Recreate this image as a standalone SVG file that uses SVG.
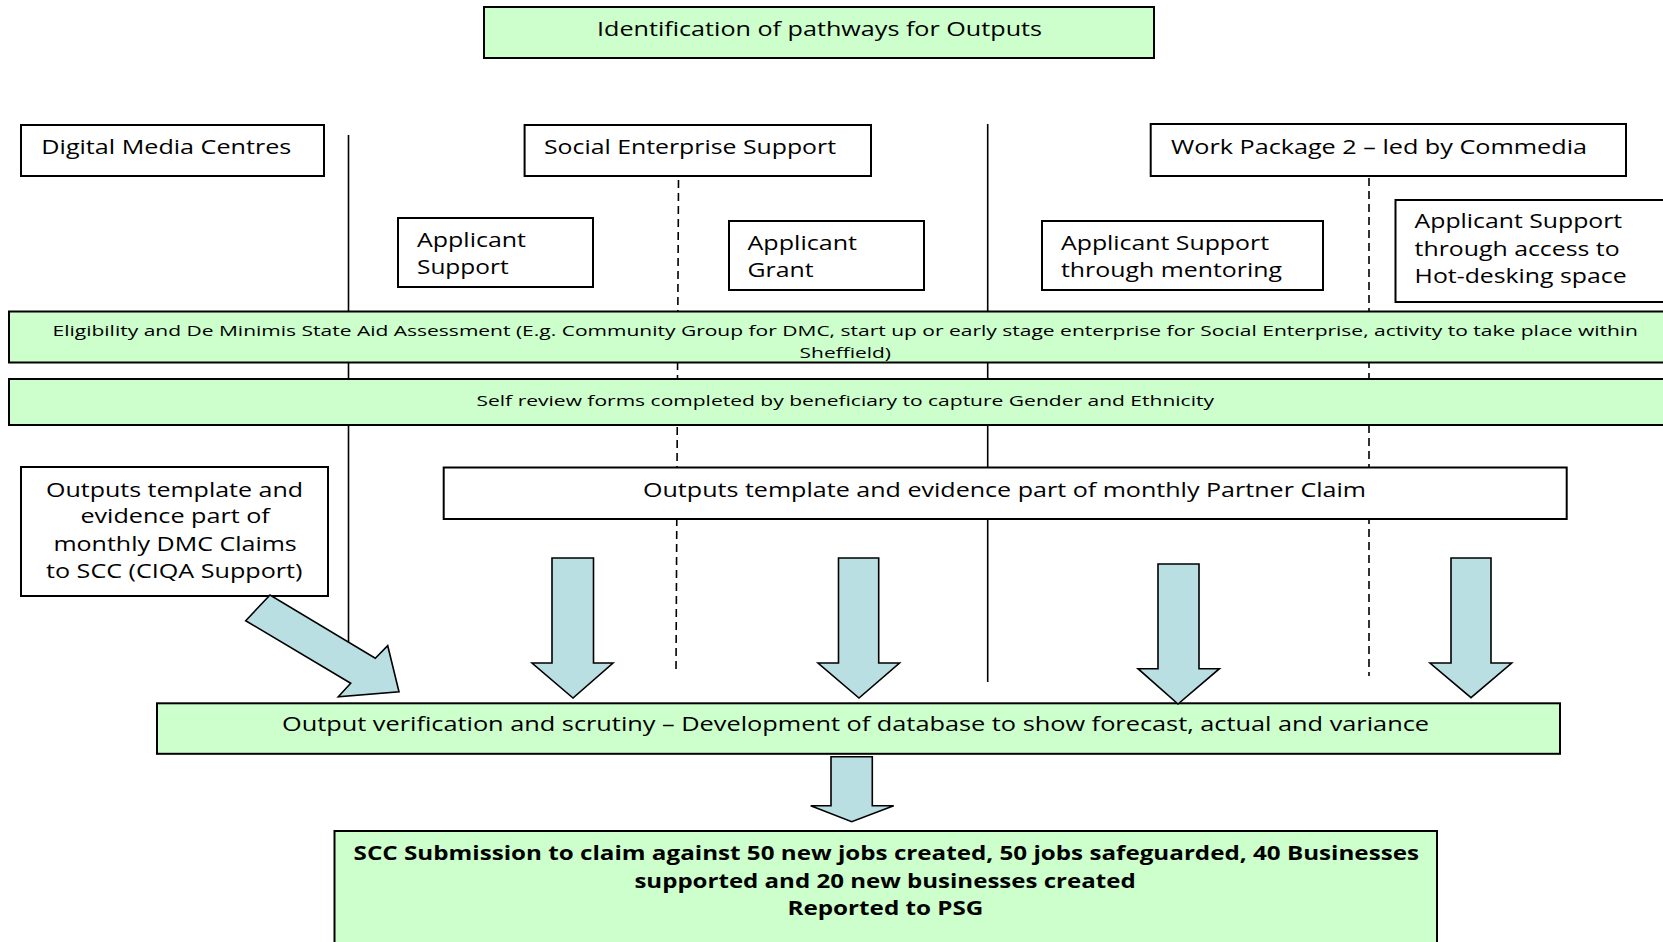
<svg xmlns="http://www.w3.org/2000/svg" width="1663" height="942" viewBox="0 0 1663 942">
<style>
.box{fill:#ffffff;stroke:#000000;stroke-width:2}
.band{fill:#ccffcc;stroke:#000000;stroke-width:2}
.lane{stroke:#000000;stroke-width:1.6;fill:none}
.dash{stroke:#000000;stroke-width:1.6;fill:none;stroke-dasharray:8 5}
.arrow{fill:#b9dfe3;stroke:#000000;stroke-width:1.6;stroke-linejoin:miter}
text{font-family:"Open Sans","Noto Sans","Liberation Sans",sans-serif;fill:#000000}
.t{font-size:20px}
.s{font-size:15px}
.b{font-size:20px;font-weight:bold}
</style>
<rect x="0" y="0" width="1663" height="942" fill="#ffffff"/>
<g id="lanes">
<line class="lane" x1="348.5" y1="135" x2="348.5" y2="645"/>
<line class="lane" x1="987.7" y1="124" x2="987.7" y2="682"/>
<line class="dash" x1="678.5" y1="180" x2="676" y2="672"/>
<line class="dash" x1="1369" y1="178" x2="1369" y2="676"/>
</g>
<g id="title">
<rect class="band" x="484" y="7" width="670" height="51"/>
<text class="t" x="597" y="36" textLength="445" lengthAdjust="spacingAndGlyphs">Identification of pathways for Outputs</text>
</g>
<g id="dmc">
<rect class="box" x="21" y="125" width="303" height="51"/>
<text class="t" x="41.3" y="154" textLength="250" lengthAdjust="spacingAndGlyphs">Digital Media Centres</text>
</g>
<g id="ses">
<rect class="box" x="524.6" y="125" width="346.4" height="51"/>
<text class="t" x="544" y="154" textLength="292" lengthAdjust="spacingAndGlyphs">Social Enterprise Support</text>
</g>
<g id="wp2">
<rect class="box" x="1150.7" y="124" width="475.3" height="52"/>
<text class="t" x="1171" y="154" textLength="416" lengthAdjust="spacingAndGlyphs">Work Package 2 – led by Commedia</text>
</g>
<g id="applicant-support">
<rect class="box" x="398" y="218" width="195" height="69"/>
<text class="t" x="417" y="247.3" textLength="109" lengthAdjust="spacingAndGlyphs">Applicant</text>
<text class="t" x="417" y="274" textLength="91.6" lengthAdjust="spacingAndGlyphs">Support</text>
</g>
<g id="applicant-grant">
<rect class="box" x="729" y="221" width="195" height="69"/>
<text class="t" x="747.5" y="250" textLength="109.5" lengthAdjust="spacingAndGlyphs">Applicant</text>
<text class="t" x="747.5" y="276.7" textLength="66" lengthAdjust="spacingAndGlyphs">Grant</text>
</g>
<g id="mentoring">
<rect class="box" x="1042" y="221" width="281" height="69"/>
<text class="t" x="1061" y="250" textLength="208" lengthAdjust="spacingAndGlyphs">Applicant Support</text>
<text class="t" x="1061" y="276.7" textLength="221" lengthAdjust="spacingAndGlyphs">through mentoring</text>
</g>
<g id="hotdesk">
<rect class="box" x="1395.5" y="200" width="280" height="102"/>
<text class="t" x="1414.6" y="228.3" textLength="207.6" lengthAdjust="spacingAndGlyphs">Applicant Support</text>
<text class="t" x="1414.6" y="255.7" textLength="205" lengthAdjust="spacingAndGlyphs">through access to</text>
<text class="t" x="1414.6" y="282.7" textLength="212" lengthAdjust="spacingAndGlyphs">Hot-desking space</text>
</g>
<g id="eligibility">
<rect class="band" x="9" y="311.5" width="1670" height="51"/>
<text class="s" x="52.5" y="336" textLength="1585.5" lengthAdjust="spacingAndGlyphs">Eligibility and De Minimis State Aid Assessment (E.g. Community Group for DMC, start up or early stage enterprise for Social Enterprise, activity to take place within</text>
<text class="s" x="799.6" y="358.3" textLength="91.4" lengthAdjust="spacingAndGlyphs">Sheffield)</text>
</g>
<g id="self-review">
<rect class="band" x="9" y="379" width="1670" height="46"/>
<text class="s" x="476.5" y="405.5" textLength="737.5" lengthAdjust="spacingAndGlyphs">Self review forms completed by beneficiary to capture Gender and Ethnicity</text>
</g>
<g id="dmc-outputs">
<rect class="box" x="21" y="467" width="307" height="129"/>
<text class="t" x="46" y="497.3" textLength="257" lengthAdjust="spacingAndGlyphs">Outputs template and</text>
<text class="t" x="80.4" y="523.3" textLength="189.4" lengthAdjust="spacingAndGlyphs">evidence part of</text>
<text class="t" x="53.4" y="551" textLength="243.4" lengthAdjust="spacingAndGlyphs">monthly DMC Claims</text>
<text class="t" x="46" y="578.3" textLength="256.5" lengthAdjust="spacingAndGlyphs">to SCC (CIQA Support)</text>
</g>
<g id="partner-claim">
<rect class="box" x="443.7" y="467.5" width="1123" height="51.5"/>
<text class="t" x="643" y="497.3" textLength="723" lengthAdjust="spacingAndGlyphs">Outputs template and evidence part of monthly Partner Claim</text>
</g>
<g id="verification">
<rect class="band" x="157" y="703.3" width="1403" height="50.5"/>
<text class="t" x="282" y="731" textLength="1147" lengthAdjust="spacingAndGlyphs">Output verification and scrutiny – Development of database to show forecast, actual and variance</text>
</g>
<g id="submission">
<rect class="band" x="334.5" y="831" width="1102.5" height="130"/>
<text class="b" x="353.6" y="860" textLength="1065.4" lengthAdjust="spacingAndGlyphs">SCC Submission to claim against 50 new jobs created, 50 jobs safeguarded, 40 Businesses</text>
<text class="b" x="634.4" y="888.3" textLength="501.3" lengthAdjust="spacingAndGlyphs">supported and 20 new businesses created</text>
<text class="b" x="787.5" y="915" textLength="195.9" lengthAdjust="spacingAndGlyphs">Reported to PSG</text>
</g>
<g id="connectors">
<polygon class="arrow" points="270,595 245.7,620.7 350.7,683.3 338.3,696.7 399,691.7 387.7,645.7 375.3,658.3"/>
<polygon class="arrow" points="552,558 593.5,558 593.5,663 613,663 573,698 532,663 552,663"/>
<polygon class="arrow" points="838.5,558 878.7,558 878.7,663 899.5,663 859,698 818,663 838.5,663"/>
<polygon class="arrow" points="1158,564 1199,564 1199,668.7 1219.4,668.7 1178,704 1138,668.7 1158,668.7"/>
<polygon class="arrow" points="1451,558 1491,558 1491,663 1511.7,663 1471,697.7 1430,663 1451,663"/>
<polygon class="arrow" points="831,756.7 872.3,756.7 872.3,805.7 893.7,805.7 851.7,821.7 810.7,805.7 831,805.7"/>
</g>
</svg>
